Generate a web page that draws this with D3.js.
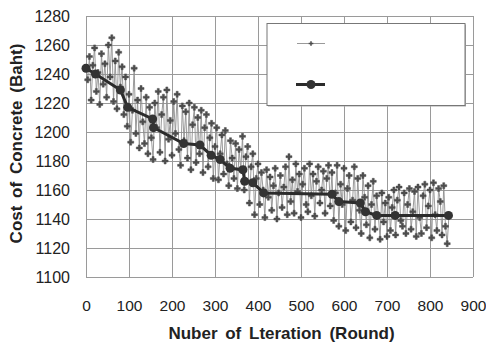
<!DOCTYPE html>
<html lang="en">
<head>
<meta charset="utf-8">
<title>Cost of Concrete by Iteration</title>
<script src="https://d3js.org/d3.v7.min.js"></script>
<style>
  body { margin: 0; background: #fff; }
  svg { font-family: "Liberation Sans", Arial, sans-serif; }
  .grid line { stroke: #9a9a9a; stroke-width: 1; }
  .grid .domain { display: none; }
  .tick text { font-size: 16px; fill: #222; }
  .xgrid .tick text { font-size: 15.5px; }
  .title { font-size: 17px; font-weight: bold; fill: #222; word-spacing: 3px; }
</style>
</head>
<body>
<script>
// axis ticks
var xTicks = [0, 100, 200, 300, 400, 500, 600, 700, 800, 900];
var yTicks = [1100, 1120, 1140, 1160, 1180, 1200, 1220, 1240, 1260, 1280];

// cost of each tried solution, read every 4 rounds from the picture
var noisyStep = 4;
var noisyCost = [
  1244, 1236, 1252, 1222, 1246, 1258, 1228, 1241, 1219, 1254, 1233, 1247, 1224, 1260, 1238, 1265, 1221, 1249, 1216, 1255, // 0-76
  1231, 1245, 1212, 1238, 1204, 1226,                                                                                     // 80-100
  1193, 1215, 1244, 1199, 1222, 1189, 1230, 1207, 1192, 1224, 1185, 1217, 1196,                                           // 104-152
  1181, 1220, 1203, 1228, 1186, 1212, 1224, 1180, 1229, 1195, 1208, 1184, 1221, 1199, 1226, 1188,                         // 156-216
  1177, 1218, 1194, 1214, 1182, 1220, 1174, 1205, 1217, 1179, 1210,                                                       // 220-260
  1185, 1215, 1172, 1203, 1212, 1176, 1196, 1206, 1168, 1190,                                                             // 264-300
  1203, 1167, 1185, 1198, 1171, 1201, 1178, 1163, 1194, 1182, 1168, 1192, 1161, 1188, 1174,                               // 304-360
  1197, 1160, 1183, 1190, 1151, 1176, 1185, 1143, 1168, 1178,                                                             // 364-400
  1150, 1172, 1160, 1141, 1174, 1155, 1169, 1146, 1163, 1175, 1140, 1158,                                                 // 404-448
  1170, 1148, 1162, 1176, 1143, 1183, 1152, 1167, 1144, 1178, 1159, 1171, 1141, 1164, 1175,                               // 452-508
  1150, 1145, 1178, 1156, 1171, 1142, 1166, 1176, 1151, 1160, 1173, 1144, 1168, 1177, 1149,                               // 512-568
  1172, 1139, 1158, 1177, 1135, 1164, 1150, 1175, 1132, 1161, 1170, 1138, 1153, 1176, 1134,                               // 572-628
  1168, 1146, 1130, 1170, 1155, 1136, 1163, 1127, 1150, 1166,                                                             // 632-668
  1133, 1156, 1142, 1126, 1158, 1138, 1151, 1128, 1155,                                                                   // 672-704
  1132, 1148, 1160, 1129, 1153, 1162, 1139, 1135, 1158, 1130, 1150, 1161, 1133, 1145, 1159, 1128, 1162, 1141,             // 708-776
  1130, 1156, 1164, 1134, 1149, 1160, 1127, 1165, 1143, 1132, 1161, 1152, 1129, 1163, 1135, 1123, 1142                    // 780-844
];

// best cost found so far
var bestRound = [0, 22, 80, 97, 155, 157, 227, 265, 291, 312, 335, 365, 369, 388, 413, 572, 588, 638, 650, 676, 719, 843];
var bestCost  = [1244, 1240, 1229, 1217, 1209, 1203, 1192, 1191, 1184, 1181, 1175, 1174, 1166, 1165, 1158, 1157, 1152, 1151, 1145, 1142.5, 1142.5, 1142.5];

var width = 486, height = 343;
var plotL = 86, plotR = 473, plotT = 16, plotB = 277;

var svg = d3.select("body").append("svg")
    .attr("width", width)
    .attr("height", height);

var x = d3.scaleLinear().domain([0, 900]).range([plotL, plotR]);
var y = d3.scaleLinear().domain([1100, 1280]).range([plotB, plotT]);

// gridlines + tick labels
svg.append("g")
    .attr("class", "grid xgrid")
    .attr("transform", "translate(0," + plotB + ")")
    .call(d3.axisBottom(x).tickValues(xTicks).tickFormat(d3.format("d"))
        .tickSizeInner(-(plotB - plotT)).tickSizeOuter(0).tickPadding(23));

svg.append("g")
    .attr("class", "grid")
    .attr("transform", "translate(" + plotL + ",0)")
    .call(d3.axisLeft(y).tickValues(yTicks).tickFormat(d3.format("d"))
        .tickSizeInner(-(plotR - plotL)).tickSizeOuter(0).tickPadding(16));

// all tried solutions
var noisy = noisyCost.map(function(d, i) { return { r: i * noisyStep, c: d }; });

svg.append("path")
    .datum(noisy)
    .attr("fill", "none")
    .attr("stroke", "#8e8e8e")
    .attr("stroke-width", 0.9)
    .attr("d", d3.line().x(function(d) { return x(d.r); }).y(function(d) { return y(d.c); }));

var marker = d3.symbol().type(d3.symbolCross).size(20);
svg.append("g").selectAll("path")
    .data(noisy)
    .enter().append("path")
    .attr("transform", function(d) { return "translate(" + x(d.r) + "," + y(d.c) + ")"; })
    .attr("d", marker)
    .attr("fill", "#4d4d4d")
    .attr("stroke", "#4d4d4d")
    .attr("stroke-width", 0.5);

// best line
var best = bestRound.map(function(d, i) { return { r: d, c: bestCost[i] }; });

svg.append("path")
    .datum(best)
    .attr("fill", "none")
    .attr("stroke", "#2b2b2b")
    .attr("stroke-width", 3)
    .attr("d", d3.line().x(function(d) { return x(d.r); }).y(function(d) { return y(d.c); }));

svg.append("g").selectAll("circle")
    .data(best)
    .enter().append("circle")
    .attr("cx", function(d) { return x(d.r); })
    .attr("cy", function(d) { return y(d.c); })
    .attr("r", 4.5)
    .attr("fill", "#333");

// legend (box without labels, as in the original)
var lg = svg.append("g");
lg.append("rect")
    .attr("x", 268).attr("y", 24.5).attr("width", 198).attr("height", 82)
    .attr("fill", "#aaa");
lg.append("rect")
    .attr("x", 267).attr("y", 23.5).attr("width", 198).attr("height", 82)
    .attr("fill", "#fff").attr("stroke", "#777").attr("stroke-width", 1);
lg.append("line")
    .attr("x1", 297).attr("x2", 325).attr("y1", 43.5).attr("y2", 43.5)
    .attr("stroke", "#8e8e8e").attr("stroke-width", 0.9);
lg.append("path")
    .attr("transform", "translate(311,43.5)")
    .attr("d", d3.symbol().type(d3.symbolCross).size(12))
    .attr("fill", "#4d4d4d");
lg.append("line")
    .attr("x1", 296).attr("x2", 325).attr("y1", 84.5).attr("y2", 84.5)
    .attr("stroke", "#2b2b2b").attr("stroke-width", 3);
lg.append("circle")
    .attr("cx", 311).attr("cy", 84.5).attr("r", 4.5).attr("fill", "#333");

// axis titles
svg.append("text")
    .attr("class", "title")
    .attr("x", (plotL + plotR) / 2 + 2)
    .attr("y", 339)
    .attr("text-anchor", "middle")
    .text("Nuber of Lteration (Round)");

svg.append("text")
    .attr("class", "title")
    .attr("transform", "translate(22," + ((plotT + plotB) / 2 - 3) + ") rotate(-90)")
    .attr("text-anchor", "middle")
    .text("Cost of Concrete (Baht)");
</script>
</body>
</html>
